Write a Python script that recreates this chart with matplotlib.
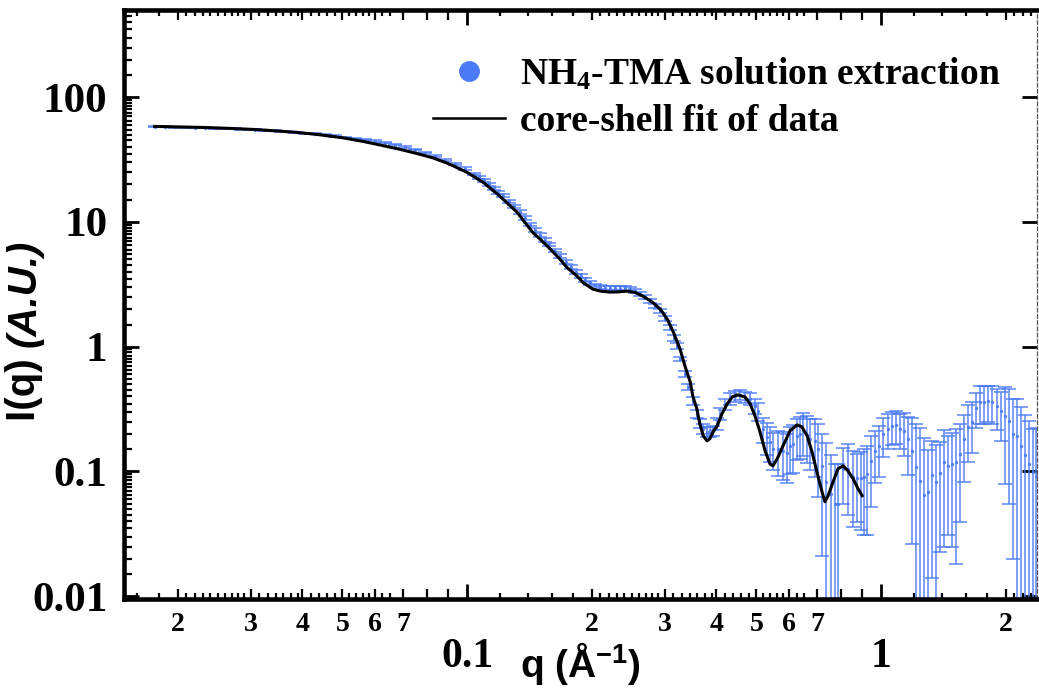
import matplotlib
matplotlib.use("Agg")
import matplotlib.pyplot as plt
from matplotlib.lines import Line2D
from matplotlib.ticker import FixedLocator, FuncFormatter
from matplotlib.transforms import offset_copy
from math import floor, log10

# SAXS data: q (1/A), intensity (A.U.), error (A.U.)
q_data = [0.0176, 0.0186, 0.0197, 0.0208, 0.0220, 0.0233, 0.0246, 0.0260, 0.0275, 0.0290,
          0.0307, 0.0325, 0.0343, 0.0363, 0.0384, 0.0406, 0.0429, 0.0453, 0.0479, 0.0507,
          0.0536, 0.0566, 0.0599, 0.0633, 0.0669, 0.0707, 0.0748, 0.0790, 0.0836, 0.0883,
          0.0934, 0.0987,
          0.104, 0.107, 0.110, 0.113, 0.116, 0.119, 0.122, 0.126, 0.130, 0.134,
          0.138, 0.142, 0.146, 0.150, 0.154, 0.158, 0.163, 0.168, 0.173, 0.178,
          0.183, 0.188, 0.193, 0.198, 0.204, 0.210, 0.216, 0.222, 0.228, 0.234,
          0.241, 0.248, 0.255, 0.262, 0.269, 0.277, 0.285, 0.293, 0.301, 0.309,
          0.317, 0.322,
          0.327, 0.336, 0.342, 0.351, 0.359, 0.365, 0.372, 0.380, 0.386, 0.393,
          0.402, 0.408, 0.420, 0.432, 0.444, 0.456, 0.469, 0.483, 0.496, 0.505,
          0.519, 0.530, 0.539, 0.548, 0.564, 0.580, 0.593, 0.603, 0.613, 0.627,
          0.637, 0.648, 0.663, 0.674, 0.693, 0.704, 0.720, 0.736, 0.755, 0.774,
          0.787, 0.810, 0.832, 0.856, 0.875, 0.895, 0.910, 0.925, 0.946, 0.967,
          0.989, 1.011, 1.040, 1.063, 1.087, 1.111, 1.136, 1.162, 1.188, 1.215,
          1.242, 1.270, 1.299, 1.328, 1.358, 1.388, 1.420, 1.451, 1.484, 1.517,
          1.551, 1.587, 1.622, 1.659, 1.696, 1.734, 1.773, 1.814, 1.854, 1.906,
          1.949, 1.993, 2.038, 2.084, 2.131, 2.179, 2.228, 2.278, 2.329, 2.370]
i_data = [57.9, 57.8, 57.5, 57.3, 57.1, 56.8, 56.5, 56.1, 55.8, 55.4,
          54.9, 54.3, 53.8, 53.1, 52.4, 51.6, 50.8, 49.9, 48.9, 47.7,
          46.6, 45.5, 44.5, 43.2, 41.6, 39.8, 38.0, 36.0, 33.8, 31.6,
          29.2, 26.8,
          24.2, 22.8, 21.5, 20.0, 18.6, 17.3, 16.2, 14.7, 13.3, 12.0,
          10.8, 9.5, 8.6, 7.9, 7.2, 6.6, 5.9, 5.35, 4.8, 4.35,
          4.0, 3.7, 3.42, 3.22, 3.1, 3.02, 2.98, 2.95, 2.95, 2.95,
          2.93, 2.88, 2.8, 2.66, 2.5, 2.32, 2.12, 1.94, 1.68, 1.42,
          1.18, 1.02,
          0.797, 0.605, 0.476, 0.368, 0.290, 0.241, 0.220, 0.208, 0.208, 0.212,
          0.241, 0.290, 0.348, 0.382, 0.403, 0.411, 0.395, 0.382, 0.336, 0.306,
          0.220, 0.190, 0.173, 0.152, 0.152, 0.146, 0.141, 0.161, 0.167, 0.193,
          0.200, 0.212, 0.197, 0.183, 0.176, 0.152, 0.111, 0.0827, 0.066, 0.0552,
          0.0552, 0.105, 0.105, 0.0907, 0.089, 0.089, 0.091, 0.0959, 0.122, 0.146,
          0.161, 0.200, 0.220, 0.232, 0.236, 0.220, 0.212, 0.183, 0.146, 0.109,
          0.0843, 0.0651, 0.0688, 0.0941, 0.0827, 0.0977, 0.120, 0.111, 0.115, 0.118,
          0.139, 0.183, 0.228, 0.250, 0.323, 0.361, 0.361, 0.368, 0.361, 0.335,
          0.306, 0.279, 0.255, 0.200, 0.193, 0.161, 0.136, 0.115, 0.0995, 0.092]
i_err = [0.5, 0.5, 0.5, 0.5, 0.5, 0.5, 0.5, 0.5, 0.5, 0.5,
         0.5, 0.5, 0.5, 0.5, 0.5, 0.5, 0.55, 0.55, 0.55, 0.55,
         0.55, 0.55, 0.6, 0.6, 0.6, 0.6, 0.6, 0.6, 0.6, 0.6,
         0.6, 0.6,
         0.6, 0.6, 0.55, 0.5, 0.5, 0.45, 0.45, 0.4, 0.4, 0.35,
         0.35, 0.3, 0.28, 0.26, 0.24, 0.22, 0.2, 0.18, 0.17, 0.15,
         0.14, 0.13, 0.12, 0.12, 0.11, 0.11, 0.11, 0.11, 0.11, 0.11,
         0.11, 0.11, 0.1, 0.1, 0.1, 0.09, 0.09, 0.08, 0.08, 0.07,
         0.06, 0.06,
         0.03, 0.03, 0.025, 0.025, 0.02, 0.02, 0.02, 0.02, 0.02, 0.02,
         0.025, 0.03, 0.035, 0.04, 0.04, 0.04, 0.04, 0.04, 0.045, 0.05,
         0.05, 0.055, 0.055, 0.05, 0.06, 0.06, 0.06, 0.065, 0.07, 0.07,
         0.075, 0.08, 0.08, 0.08, 0.085, 0.09, 0.09, 0.085, 0.07, 0.06,
         0.06, 0.05, 0.06, 0.055, 0.05, 0.055, 0.06, 0.065, 0.07, 0.065,
         0.07, 0.07, 0.07, 0.07, 0.07, 0.07, 0.08, 0.09, 0.12, 0.13,
         0.14, 0.12, 0.08, 0.08, 0.08, 0.075, 0.095, 0.08, 0.09, 0.1,
         0.1, 0.1, 0.11, 0.11, 0.1, 0.12, 0.12, 0.12, 0.12, 0.12,
         0.13, 0.2, 0.2, 0.18, 0.19, 0.17, 0.15, 0.14, 0.12, 0.13]

# core-shell model curve
q_fit = [0.0176, 0.020, 0.023, 0.0268, 0.031, 0.035, 0.0389, 0.044, 0.050, 0.0561,
         0.062, 0.0689, 0.076, 0.0828, 0.090, 0.100, 0.110, 0.120, 0.132, 0.144,
         0.152, 0.159, 0.1677, 0.174, 0.1844, 0.191, 0.2015, 0.211, 0.2215, 0.232,
         0.2434, 0.2545, 0.2661, 0.280, 0.293, 0.305, 0.315, 0.327, 0.336, 0.346,
         0.351, 0.359, 0.365, 0.372, 0.380, 0.386, 0.393, 0.402, 0.413, 0.425,
         0.437, 0.451, 0.469, 0.483, 0.496, 0.510, 0.525, 0.539, 0.548, 0.561,
         0.580, 0.603, 0.627, 0.644, 0.663, 0.681, 0.700, 0.720, 0.732, 0.745,
         0.766, 0.787, 0.810, 0.832, 0.856, 0.880, 0.900]
i_fit = [58.3, 57.8, 57.2, 56.2, 55.0, 53.5, 52.2, 50.0, 47.3, 44.2,
         41.2, 38.2, 35.2, 32.6, 29.4, 25.0, 20.5, 16.1, 12.0, 8.27,
         7.0, 6.05, 5.03, 4.34, 3.68, 3.25, 2.89, 2.78, 2.74, 2.75,
         2.79, 2.72, 2.54, 2.28, 2.00, 1.65, 1.31, 0.958, 0.701, 0.522,
         0.403, 0.318, 0.241, 0.193, 0.176, 0.183, 0.208, 0.232, 0.290, 0.348,
         0.396, 0.411, 0.396, 0.348, 0.279, 0.208, 0.146, 0.115, 0.111, 0.126,
         0.161, 0.212, 0.236, 0.228, 0.193, 0.144, 0.0995, 0.0688, 0.0572, 0.0639,
         0.0827, 0.105, 0.111, 0.101, 0.0874, 0.0727, 0.0639]

legend_labels = [r'NH$_4$-TMA solution extraction', 'core-shell fit of data']
x_subs = [1.2, 1.4, 1.6, 1.8, 2.0, 2.1, 2.2, 2.3, 2.4, 2.5, 2.6, 2.7, 2.8, 2.9,
          3.0, 3.15, 3.3, 3.45, 3.6, 3.75, 3.9, 4.0, 4.2, 4.4, 4.6, 4.8, 5.0,
          5.2, 5.4, 5.6, 5.8, 6.0, 6.25, 6.5, 7.0, 8.0, 9.0]
y_subs = [1.5, 2.0, 2.5, 3.0, 3.5, 4.0, 4.5, 5.0, 5.5, 6.0, 6.5, 7.0, 7.5, 8.0, 8.5, 9.0, 9.5]

q_lo, q_hi = 0.01484, 2.381
i_lo, i_hi = 0.0095, 500

blue = '#4a7af5'

plt.rcParams['font.family'] = 'Liberation Serif'
plt.rcParams['font.weight'] = 'bold'
plt.rcParams['mathtext.fontset'] = 'custom'
plt.rcParams['mathtext.rm'] = 'Liberation Serif:bold'
plt.rcParams['mathtext.bf'] = 'Liberation Serif:bold'
plt.rcParams['mathtext.sf'] = 'Liberation Sans:bold'
plt.rcParams['mathtext.default'] = 'rm'

fig = plt.figure(figsize=(10.39, 6.97), dpi=100)
ax = fig.add_axes([0.1193, 0.1406, 0.8788, 0.8451])
ax.set_xscale('log')
ax.set_yscale('log')

ax.errorbar(q_data, i_data, yerr=i_err, fmt='o', ms=2.4, color=blue, mec='none',
            ecolor=blue, elinewidth=1.1, capsize=5.2, capthick=1.1, alpha=0.9, zorder=2)
ax.plot(q_fit, i_fit, color='black', lw=2.2, zorder=3)

ax.set_xlim(q_lo, q_hi)
ax.set_ylim(i_lo, i_hi)

# x ticks: decades big and low, integer subs labelled small
def sub_of(v):
    return v / 10 ** floor(log10(v) + 1e-9)

def minor_label(v, pos):
    m = sub_of(v)
    if abs(m - round(m)) < 1e-6 and 2 <= round(m) <= 7:
        return str(int(round(m)))
    return ''

x_minor = sorted(s * 10.0 ** e for e in (-2, -1, 0) for s in x_subs if q_lo < s * 10.0 ** e < q_hi)
ax.xaxis.set_major_locator(FixedLocator([0.1, 1.0]))
ax.xaxis.set_minor_locator(FixedLocator(x_minor))
ax.xaxis.set_major_formatter(FuncFormatter(lambda v, p: f'{v:g}'))
ax.xaxis.set_minor_formatter(FuncFormatter(minor_label))

y_minor = sorted(s * 10.0 ** e for e in range(-3, 3) for s in y_subs if i_lo < s * 10.0 ** e < i_hi)
ax.yaxis.set_major_locator(FixedLocator([0.01, 0.1, 1, 10, 100]))
ax.yaxis.set_minor_locator(FixedLocator(y_minor))
ax.yaxis.set_major_formatter(FuncFormatter(lambda v, p: f'{v:g}'))
ax.yaxis.set_minor_formatter(FuncFormatter(lambda v, p: ''))

ax.tick_params(which='both', direction='in', top=True, color='black')
ax.tick_params(axis='x', which='major', length=11, width=2, labelsize=30, pad=28)
ax.tick_params(axis='x', which='minor', length=4, width=1.6, labelsize=20, pad=9)
ax.tick_params(axis='y', which='major', length=11, width=2, labelsize=31, pad=12, right=True)
ax.tick_params(axis='y', which='minor', length=6, width=1.6, right=False)

# integer sub ticks slightly longer
for t, loc in zip(ax.xaxis.get_minor_ticks(len(x_minor)), x_minor):
    m = sub_of(loc)
    if abs(m - round(m)) < 1e-6:
        t.tick1line.set_markersize(7)
        t.tick2line.set_markersize(7)

for side in ('left', 'bottom', 'top'):
    ax.spines[side].set_linewidth(3.3)
ax.spines['right'].set(linewidth=0.9, linestyle=(0, (3, 2)), color='#555555')

ax.set_xlabel(r'q (Å$^{\mathsf{-1}}$)', family='Liberation Sans', weight='bold', size=28)
ax.xaxis.set_label_coords(0.5, -0.07)

# y label: upright "I(q)" followed by italic "(A.U.)"
ylab_a = ax.text(-0.097, 0.302, 'I(q) ', transform=ax.transAxes, rotation=90,
                 rotation_mode='anchor', ha='left', va='baseline',
                 family='Liberation Sans', weight='bold', size=29)
fig.canvas.draw()
ext = ylab_a.get_window_extent()
ax.text(-0.097, 0.302, '(A.U.)', rotation=90, rotation_mode='anchor', ha='left', va='baseline',
        family='Liberation Sans', weight='bold', style='italic', size=29,
        transform=offset_copy(ax.transAxes, fig=fig, x=0, y=ext.height, units='dots'))

handles = [Line2D([], [], ls='none', marker='o', ms=14, color=blue),
           Line2D([], [], color='black', lw=1.8)]
ax.legend(handles, legend_labels, loc='upper left', bbox_to_anchor=(0.3384, 0.922),
          frameon=False, prop=dict(family='Liberation Serif', weight='bold', size=27),
          handlelength=1.92, handletextpad=0.4, labelspacing=0.32,
          borderaxespad=0, borderpad=0, numpoints=1)

fig.savefig('out.png', dpi=100)
